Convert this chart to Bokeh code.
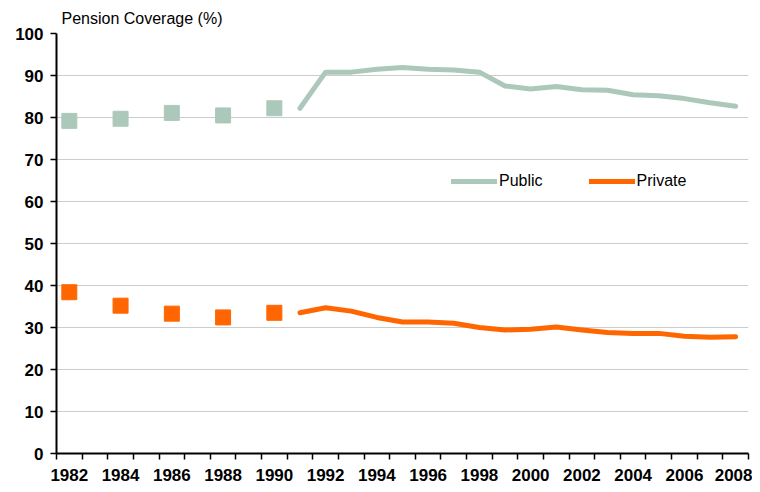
from bokeh.plotting import figure
from bokeh.models import Range1d, FixedTicker, Legend, LegendItem
from bokeh.embed import file_html
from bokeh.resources import INLINE

# ---- data ----
survey_years = [1982, 1984, 1986, 1988, 1990]
public_survey = [79.2, 79.7, 81.1, 80.5, 82.2]
private_survey = [38.4, 35.2, 33.3, 32.4, 33.5]

annual_years = [1991, 1992, 1993, 1994, 1995, 1996, 1997, 1998, 1999,
                2000, 2001, 2002, 2003, 2004, 2005, 2006, 2007, 2008]
public_annual = [82.2, 90.8, 90.8, 91.5, 91.9, 91.5, 91.3, 90.8, 87.5,
                 86.8, 87.4, 86.6, 86.5, 85.4, 85.2, 84.5, 83.5, 82.7]
private_annual = [33.5, 34.7, 33.9, 32.4, 31.3, 31.3, 31.0, 30.0, 29.4,
                  29.6, 30.1, 29.4, 28.8, 28.6, 28.6, 27.9, 27.7, 27.8]

x_label_years = [1982, 1984, 1986, 1988, 1990, 1992, 1994, 1996, 1998,
                 2000, 2002, 2004, 2006, 2008]
y_ticks = [0, 10, 20, 30, 40, 50, 60, 70, 80, 90, 100]

PUBLIC = "#ACC8BB"
PRIVATE = "#FF6600"

p = figure(width=752, height=484, output_backend="svg", toolbar_location=None,
           x_range=Range1d(1981.5, 2008.5), y_range=Range1d(0, 100),
           min_border_left=56, min_border_right=4, min_border_bottom=31,
           min_border_top=0)

p.title.text = "Pension Coverage (%)"
p.title.text_font = "Liberation Sans"
p.title.text_font_style = "normal"
p.title.text_font_size = "16px"
p.title.text_color = "black"
p.title.align = "left"
p.title.offset = 5
p.title.standoff = 14

p.outline_line_color = None
p.background_fill_color = "white"
p.border_fill_color = "white"

p.xgrid.grid_line_color = None
p.ygrid.grid_line_color = "#CCCCCC"
p.ygrid.grid_line_width = 1

# y axis
p.yaxis.ticker = FixedTicker(ticks=y_ticks)
p.yaxis.axis_line_color = "black"
p.yaxis.axis_line_width = 2
p.yaxis.major_tick_line_color = "black"
p.yaxis.major_tick_line_width = 1.5
p.yaxis.major_tick_out = 6
p.yaxis.major_tick_in = 0
p.yaxis.minor_tick_line_color = None
p.yaxis.major_label_text_font = "Liberation Sans"
p.yaxis.major_label_text_font_style = "bold"
p.yaxis.major_label_text_font_size = "17px"
p.yaxis.major_label_text_color = "black"
p.yaxis.major_label_standoff = 7

# x axis (Excel-style: ticks between categories, labels at centers)
p.xaxis.ticker = FixedTicker(ticks=x_label_years,
                             minor_ticks=[y + 0.5 for y in range(1981, 2009)])
p.xaxis.axis_line_color = "black"
p.xaxis.axis_line_width = 2
p.xaxis.major_tick_line_color = None
p.xaxis.major_tick_out = 0
p.xaxis.major_tick_in = 0
p.xaxis.minor_tick_line_color = "black"
p.xaxis.minor_tick_line_width = 1.5
p.xaxis.minor_tick_out = 6
p.xaxis.minor_tick_in = 0
p.xaxis.major_label_text_font = "Liberation Sans"
p.xaxis.major_label_text_font_style = "bold"
p.xaxis.major_label_text_font_size = "17px"
p.xaxis.major_label_text_color = "black"
p.xaxis.major_label_standoff = 9

# data
pub_line = p.line(annual_years, public_annual, line_color=PUBLIC, line_width=5,
                  line_cap="round", line_join="round")
priv_line = p.line(annual_years, private_annual, line_color=PRIVATE, line_width=5,
                   line_cap="round", line_join="round")
p.scatter(survey_years, public_survey, marker="square", size=15,
          fill_color=PUBLIC, line_color=PUBLIC)
p.scatter(survey_years, private_survey, marker="square", size=15,
          fill_color=PRIVATE, line_color=PRIVATE)

legend = Legend(items=[LegendItem(label="Public", renderers=[pub_line]),
                       LegendItem(label="Private", renderers=[priv_line])],
                orientation="horizontal", location=(395, 262),
                border_line_color=None, background_fill_alpha=0,
                padding=0, margin=0, glyph_width=46, glyph_height=20,
                label_standoff=2, spacing=46,
                label_text_font="Liberation Sans", label_text_font_size="16px",
                label_text_color="black")
p.add_layout(legend)

open("out.html", "w").write(file_html(p, INLINE))
